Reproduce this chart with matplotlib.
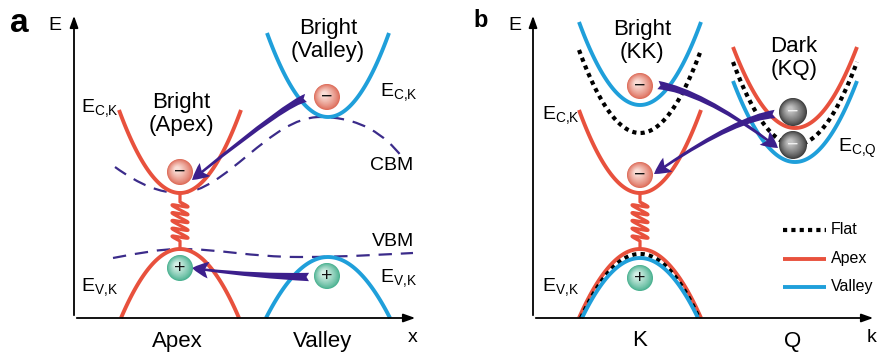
import numpy as np
import matplotlib.pyplot as plt
from matplotlib.patches import Circle, FancyArrowPatch, PathPatch
from matplotlib.path import Path

plt.rcParams['font.family'] = ['Liberation Sans', 'DejaVu Sans']
plt.rcParams['mathtext.fontset'] = 'custom'
plt.rcParams['mathtext.rm'] = 'Liberation Sans'

RED = '#e8513d'
BLUE = '#1f9fda'
PURPLE = '#3c1f8c'
DASHC = '#3b2b8a'

# schematic drawn in pixel space (x right, y down)
# bands: centre x, vertex y, half width, depth (>0 opens upward)
a_cx = [180, 180, 328, 328]
a_vy = [193, 249, 117, 257]
a_hw = [61, 59, 61, 62]
a_depth = [83, -69, 84, -61]
a_kind = ['Apex', 'Apex', 'Valley', 'Valley']

b_cx = [640, 640, 640, 640, 640, 640, 795, 795, 795]
b_vy = [105, 133, 193, 249, 254, 258, 128, 145, 162]
b_hw = [61, 61, 61, 61, 59, 58, 62, 62, 62]
b_depth = [83, 83, 83, -69, -64, -60, 81, 83, 81]
b_kind = ['Valley', 'Flat', 'Apex', 'Apex', 'Flat', 'Valley', 'Apex', 'Flat', 'Valley']

# CBM / VBM guide curves (cubic bezier control points)
cbm_pts = [(115, 167), (140, 185), (160, 193), (180, 193), (225, 193), (270, 117),
           (320, 117), (360, 117), (385, 135), (402, 157)]
vbm_pts = [(113, 258), (140, 253), (160, 249), (180, 249), (220, 249), (250, 257),
           (300, 257), (350, 257), (390, 254), (413, 253)]

# particles: x, y, type
particles = [(180, 172, 'e'), (180, 268, 'h'), (327, 97, 'e'), (327, 276, 'h'),
             (640, 86, 'e'), (640, 175, 'e'), (640, 278, 'h'),
             (793, 112, 'd'), (793, 145, 'd')]

# transfer arrows: start, control, end
arrows = [((306, 98), (288, 102), (192, 180)),
          ((309, 277), (250, 276), (192, 268)),
          ((658, 85), (705, 92), (778, 148)),
          ((775, 114), (735, 118), (654, 174))]

springs = [(180, 193, 249), (640, 193, 249)]

styles = {'Apex': dict(color=RED, lw=2.8, ls='-'),
          'Valley': dict(color=BLUE, lw=2.8, ls='-'),
          'Flat': dict(color='black', lw=3.0, ls=(0, (1, 1)))}

fig = plt.figure(figsize=(8.77, 3.52), dpi=100)
ax = fig.add_axes([0, 0, 1, 1])
ax.set_xlim(0, 877)
ax.set_ylim(352, 0)
ax.axis('off')


def band(cx, vy, hw, depth, kind):
    x = np.linspace(cx - hw, cx + hw, 120)
    y = vy - depth * ((x - cx) / hw) ** 2
    ax.plot(x, y, solid_capstyle='butt', zorder=2, **styles[kind])


for i in range(len(a_cx)):
    band(a_cx[i], a_vy[i], a_hw[i], a_depth[i], a_kind[i])
for i in range(len(b_cx)):
    band(b_cx[i], b_vy[i], b_hw[i], b_depth[i], b_kind[i])


def bez(pts):
    codes = [Path.MOVETO] + [Path.CURVE4] * (len(pts) - 1)
    ax.add_patch(PathPatch(Path(pts, codes), fill=False, ec=DASHC, lw=1.6,
                           ls=(0, (6, 4)), zorder=1))


bez(cbm_pts)
bez(vbm_pts)

# springs
for sx, y0, y1 in springs:
    t = np.linspace(0, 5 * 2 * np.pi, 400)
    top, bot = y0 + 9, y1 - 8
    yy = top + (bot - top) * t / t[-1] + 2.8 * np.sin(t)
    xx = sx + 8 * np.sin(t)
    xx = np.concatenate([[sx, sx], xx, [sx, sx]])
    yy = np.concatenate([[y0, top], yy, [bot, y1]])
    ax.plot(xx, yy, color=RED, lw=2.3, zorder=3)

# arrows
for p0, pc, p1 in arrows:
    path = Path([p0, pc, p1], [Path.MOVETO, Path.CURVE3, Path.CURVE3])
    ax.add_patch(FancyArrowPatch(path=path, color=PURPLE, zorder=4,
                                 arrowstyle='fancy,head_length=1.0,head_width=1.0,tail_width=0.5',
                                 mutation_scale=12, lw=0))

# particles
pal = {'e': ('#dd6a57', '#fbe3dc', '#111111', '\u2212'),
       'h': ('#48b08f', '#dcf3ea', '#111111', '+'),
       'd': ('#3c3c3c', '#c8c8c8', '#f0f0f0', '\u2212')}
for px, py, kind in particles:
    edge, hi, tc, sign = pal[kind]
    r = 14 if kind == 'd' else 13
    c0 = np.array(plt.matplotlib.colors.to_rgb(edge))
    c1 = np.array(plt.matplotlib.colors.to_rgb(hi))
    n = 18
    for k in range(n):
        f = k / n
        rr = r * (1 - 0.85 * f)
        ax.add_patch(Circle((px - 3 * f, py - 3 * f), rr, color=c0 + (c1 - c0) * f ** 0.8,
                            lw=0, zorder=5))
    ax.text(px, py + 0.5, sign, ha='center', va='center', fontsize=14, color=tc, zorder=6)

# axes
for x0, x1 in [(74, 418), (533, 876)]:
    ax.add_patch(FancyArrowPatch((x0, 318), (x0, 13), arrowstyle='-|>,head_length=0.7,head_width=0.25',
                                 mutation_scale=10, color='black', lw=1.3, zorder=2))
    ax.add_patch(FancyArrowPatch((x0, 318), (x1, 318), arrowstyle='-|>,head_length=0.7,head_width=0.25',
                                 mutation_scale=10, color='black', lw=1.3, zorder=2))

fs = 16
fe = 14
ax.text(19, 32, 'a', fontsize=24, fontweight='bold', ha='center', va='baseline')
ax.text(481, 27, 'b', fontsize=17, fontweight='bold', ha='center', va='baseline')
ax.text(55, 30, 'E', fontsize=fe, ha='center', va='baseline')
ax.text(515, 30, 'E', fontsize=fe, ha='center', va='baseline')

ax.text(181, 114, 'Bright\n(Apex)', fontsize=fs, ha='center', va='center', linespacing=1.15)
ax.text(328, 40, 'Bright\n(Valley)', fontsize=fs, ha='center', va='center', linespacing=1.15)
ax.text(642, 41, 'Bright\n(KK)', fontsize=fs, ha='center', va='center', linespacing=1.15)
ax.text(794, 58, 'Dark\n(KQ)', fontsize=fs, ha='center', va='center', linespacing=1.15)

ecK = r'E$_\mathregular{C{,}K}$'
evK = r'E$_\mathregular{V{,}K}$'
ax.text(81, 113, ecK, fontsize=fe, va='baseline')
ax.text(81, 292, evK, fontsize=fe, va='baseline')
ax.text(380, 97, ecK, fontsize=fe, va='baseline')
ax.text(380, 283, evK, fontsize=fe, va='baseline')
ax.text(542, 120, ecK, fontsize=fe, va='baseline')
ax.text(542, 292, evK, fontsize=fe, va='baseline')
ax.text(838, 152, r'E$_\mathregular{C{,}Q}$', fontsize=fe, va='baseline')
ax.text(370, 166, 'CBM', fontsize=fe, va='center')
ax.text(372, 242, 'VBM', fontsize=fe, va='center')

ax.text(177, 341, 'Apex', fontsize=fs, ha='center', va='center')
ax.text(323, 341, 'Valley', fontsize=fs, ha='center', va='center')
ax.text(413, 337, 'x', fontsize=fe, ha='center', va='center')
ax.text(640, 341, 'K', fontsize=fs, ha='center', va='center')
ax.text(793, 341, 'Q', fontsize=fs, ha='center', va='center')
ax.text(872, 337, 'k', fontsize=fe, ha='center', va='center')

# legend
leg_y = [230, 259, 287]
for yy, kind in zip(leg_y, ['Flat', 'Apex', 'Valley']):
    ax.plot([783, 826], [yy, yy], solid_capstyle='butt', **styles[kind])
    ax.text(831, yy, kind, fontsize=11.5, va='center')

fig.savefig('out.png', dpi=100, facecolor='white')
